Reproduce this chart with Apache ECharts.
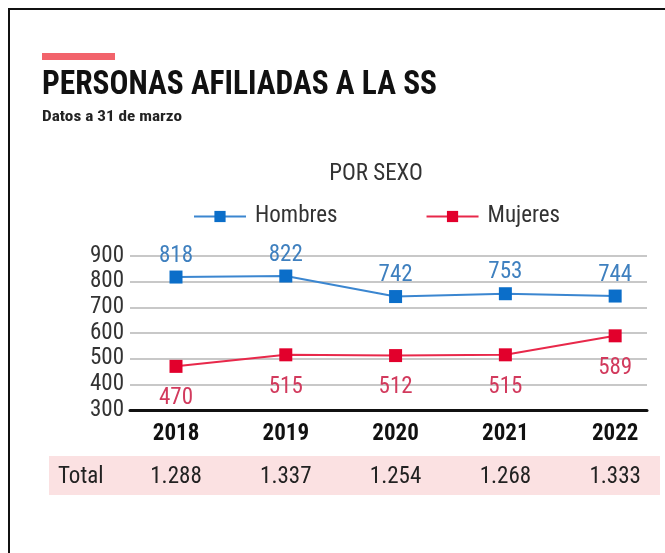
<!DOCTYPE html>
<html>
<head>
<meta charset="utf-8">
<script src="https://cdn.jsdelivr.net/npm/echarts@6/dist/echarts.min.js"></script>
<style>
  html, body { margin: 0; padding: 0; background: #fff; }
  .graphic { width: 665px; height: 553px; }
</style>
</head>
<body>
<div class="graphic"></div>
<script>
let years = ['2018', '2019', '2020', '2021', '2022'];
let hombres = [818, 822, 742, 753, 744];
let mujeres = [470, 515, 512, 515, 589];
let totales = ['1.288', '1.337', '1.254', '1.268', '1.333'];
let yTicks = [300, 400, 500, 600, 700, 800, 900];

let font = "'Roboto Condensed', Roboto, sans-serif";
let chartDom = document.querySelector('.graphic');
let myChart = echarts.init(chartDom);
let option;

// squeeze a text to a given width (the original uses a condensed face)
function fitScale(text, css, width){
    let ctx = document.createElement('canvas').getContext('2d');
    ctx.font = css;
    return width / ctx.measureText(text).width;
}

function pairs(vals){
    return vals.map(function(v, i){ return [i, v]; });
}

let titleText = 'PERSONAS AFILIADAS A LA SS';
let titleFont = 'bold 33px ' + font;
let subText = 'Datos a 31 de marzo';
let subFont = 'bold 15px ' + font;

option = {
    animation: false,
    textStyle: { fontFamily: font },
    title: {
        text: 'POR SEXO',
        left: 371,
        textAlign: 'center',
        top: 158,
        textStyle: { fontFamily: font, fontSize: 23, fontWeight: 'normal', color: '#333' }
    },
    legend: {
        left: 188,
        top: 200,
        itemWidth: 52,
        itemHeight: 14,
        itemGap: 88,
        textStyle: { fontFamily: font, fontSize: 23, color: '#333', padding: [0, 0, 0, 4] },
        data: ['Hombres', 'Mujeres']
    },
    grid: { left: 130, right: 18, top: 256, bottom: 143 },
    xAxis: [
        {
            type: 'value',
            min: -0.419,
            max: 4.29,
            splitLine: { show: false },
            axisTick: { show: false },
            axisLine: { show: true, onZero: false, lineStyle: { color: '#111', width: 3 } },
            axisLabel: {
                customValues: [0, 1, 2, 3, 4],
                formatter: function(v){ return years[Math.round(v)]; },
                margin: 13,
                fontFamily: font, fontSize: 23, fontWeight: 'bold', color: '#111'
            }
        },
        {
            type: 'value',
            position: 'bottom',
            offset: 42,
            min: -0.419,
            max: 4.29,
            splitLine: { show: false },
            axisTick: { show: false },
            axisLine: { show: false },
            axisLabel: {
                customValues: [0, 1, 2, 3, 4],
                formatter: function(v){ return totales[Math.round(v)]; },
                margin: 14,
                fontFamily: font, fontSize: 23, color: '#222'
            }
        }
    ],
    yAxis: {
        type: 'value',
        min: yTicks[0],
        max: yTicks[yTicks.length - 1],
        interval: 100,
        axisLine: { show: false },
        axisTick: { show: false },
        splitLine: { lineStyle: { color: '#c8c8c8', width: 2 } },
        axisLabel: { margin: 6, fontFamily: font, fontSize: 23, color: '#333' }
    },
    graphic: [
        { type: 'polyline', shape: { points: [[9, 553], [9, 9], [665, 9]] }, style: { stroke: '#111', lineWidth: 2, fill: null } },
        { type: 'rect', left: 42, top: 53, shape: { width: 73, height: 7 }, style: { fill: '#f2636b' } },
        { type: 'text', x: 42, y: 69, scaleX: fitScale(titleText, titleFont, 395), style: { text: titleText, font: titleFont, fill: '#111' } },
        { type: 'text', x: 42, y: 110, scaleX: fitScale(subText, subFont, 140), style: { text: subText, font: subFont, fill: '#222' } },
        { type: 'rect', left: 49, top: 456, z: -10, shape: { width: 611, height: 39 }, style: { fill: '#fbe1e2' } },
        { type: 'text', left: 58, top: 466, style: { text: 'Total', font: '23px ' + font, fill: '#222' } }
    ],
    series: [
        {
            name: 'Hombres',
            type: 'line',
            data: pairs(hombres),
            symbol: 'rect',
            symbolSize: 13,
            itemStyle: { color: '#0b6ec9' },
            lineStyle: { color: '#3b86d0', width: 2 },
            label: {
                show: true, position: 'top', distance: 3,
                formatter: function(p){ return p.value[1]; },
                fontFamily: font, fontSize: 23, color: '#3f80bf'
            }
        },
        {
            name: 'Mujeres',
            type: 'line',
            data: pairs(mujeres),
            symbol: 'rect',
            symbolSize: 13,
            itemStyle: { color: '#e2002c' },
            lineStyle: { color: '#e8284a', width: 2 },
            label: {
                show: true, position: 'bottom', distance: 14,
                formatter: function(p){ return p.value[1]; },
                fontFamily: font, fontSize: 23, color: '#d23a5d'
            }
        }
    ]
};

option && myChart.setOption(option);
</script>
</body>
</html>
